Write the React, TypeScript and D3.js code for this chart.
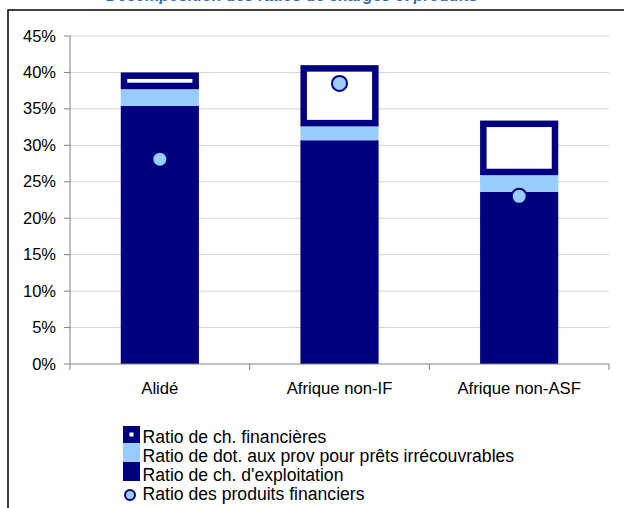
import React from "react";
import * as d3 from "d3";

const categories = ["Alidé", "Afrique non-IF", "Afrique non-ASF"];
const exploitation = [35.4, 30.7, 23.6];
const provisions = [2.3, 1.9, 2.3];
const financieres = [2.3, 8.4, 7.5];
const produits = [28.1, 38.5, 23.0];
const yTicks = [0, 5, 10, 15, 20, 25, 30, 35, 40, 45];
const legendLabels = [
  "Ratio de ch. financières",
  "Ratio de dot. aux prov pour prêts irrécouvrables",
  "Ratio de ch. d'exploitation",
  "Ratio des produits financiers",
];
const title = "Décomposition des ratios de charges et produits";

const NAVY = "#000080";
const LIGHT = "#99CCFF";
const FONT = "'Liberation Sans', Arial, sans-serif";

export default function App() {
  const W = 624, H = 508;
  const x0 = 70, x1 = 609, y0 = 364, y1 = 36;
  const x = d3.scaleBand<string>().domain(categories).range([x0, x1]).paddingInner(0.565).paddingOuter(0.2825);
  const y = d3.scaleLinear().domain([0, 45]).range([y0, y1]);
  const outer = d3.scaleBand<string>().domain(categories).range([x0, x1]);
  const bw = x.bandwidth();
  const inset = 6.5;

  return (
    <svg width={W} height={H} style={{ position: "absolute", left: 0, top: 0, fontFamily: FONT }}>
      <rect x={0} y={0} width={W} height={H} fill="#fff" />
      <text x={292} y={1} textAnchor="middle" fontSize={16} fontStyle="italic" fontWeight="bold" fill="#2E6DB4">{title}</text>
      <path d="M8,508 V10 H624" fill="none" stroke="#000" strokeWidth={1.5} />
      {yTicks.map((t) => (
        <g key={t}>
          {t > 0 && <line x1={x0} x2={x1} y1={y(t)} y2={y(t)} stroke="#d4d4d4" strokeWidth={1} />}
          <line x1={x0 - 6} x2={x0} y1={y(t)} y2={y(t)} stroke="#808080" />
          <text x={56} y={y(t) + 5.5} textAnchor="end" fontSize={16.5} fill="#000">{t}%</text>
        </g>
      ))}
      {categories.map((c, i) => {
        const bx = x(c)!;
        const e = exploitation[i], p = provisions[i], f = financieres[i];
        const fTop = y(e + p + f), fBot = y(e + p);
        return (
          <g key={c}>
            <rect x={bx} y={y(e)} width={bw} height={y0 - y(e)} fill={NAVY} />
            <rect x={bx} y={y(e + p)} width={bw} height={y(e) - y(e + p)} fill={LIGHT} />
            <rect x={bx} y={fTop} width={bw} height={fBot - fTop} fill={NAVY} />
            <rect x={bx + inset} y={fTop + inset} width={bw - 2 * inset} height={Math.max(0, fBot - fTop - 2 * inset)} fill="#fff" />
          </g>
        );
      })}
      {categories.map((c, i) => (
        <circle key={c} cx={outer(c)! + outer.bandwidth() / 2} cy={y(produits[i])} r={7.5} fill={LIGHT} stroke={NAVY} strokeWidth={2} />
      ))}
      <line x1={x0} x2={x0} y1={y1} y2={y0} stroke="#808080" />
      <line x1={x0} x2={x1} y1={y0} y2={y0} stroke="#808080" />
      {[...categories.map((c) => outer(c)!), x1].map((tx, i) => (
        <line key={i} x1={tx} x2={tx} y1={y0} y2={y0 + 6} stroke="#808080" />
      ))}
      {categories.map((c) => (
        <text key={c} x={outer(c)! + outer.bandwidth() / 2} y={394} textAnchor="middle" fontSize={16.7} fill="#000">{c}</text>
      ))}
      <g>
        <rect x={123} y={426} width={17} height={17} fill={NAVY} />
        <rect x={129.5} y={432.5} width={4} height={4} fill="#fff" />
        <rect x={123} y={443} width={17} height={19} fill={LIGHT} />
        <rect x={123} y={462} width={17} height={19} fill={NAVY} />
        <circle cx={130} cy={495} r={5} fill={LIGHT} stroke={NAVY} strokeWidth={2} />
        {legendLabels.map((l, i) => (
          <text key={l} x={142.5} y={443 + i * 19} fontSize={17.6} fill="#000">{l}</text>
        ))}
      </g>
    </svg>
  );
}
